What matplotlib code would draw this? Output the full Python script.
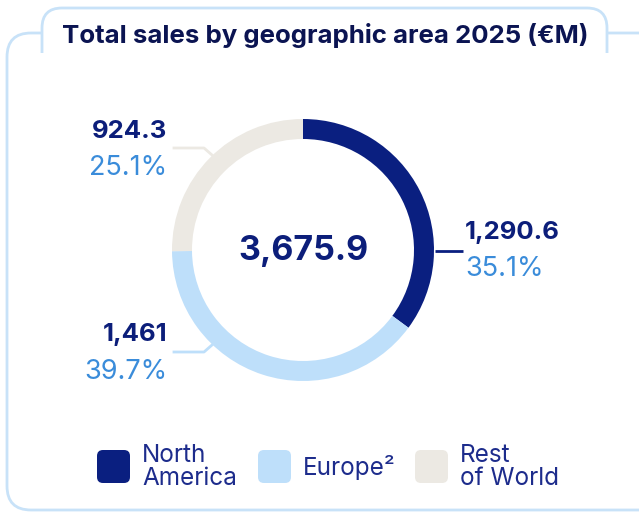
import matplotlib
matplotlib.use("Agg")
import matplotlib.pyplot as plt
from matplotlib.patches import FancyBboxPatch, Rectangle

plt.rcParams['font.family'] = ['Inter', 'DejaVu Sans']

# data
regions = ['North America', 'Europe', 'Rest of World']
legend_labels = ['North\nAmerica', 'Europe\u00b2', 'Rest\nof World']
sales = [1290.6, 1461, 924.3]
value_labels = ['1,290.6', '1,461', '924.3']
pct_labels = ['35.1%', '39.7%', '25.1%']
total_label = '3,675.9'
title = 'Total sales by geographic area 2025 (\u20acM)'

colors = ['#0A1F80', '#BEDFFA', '#ECE9E3']
navy_text = '#0C1E7A'
pct_blue = '#3A8CDA'
frame_col = '#C8E2F8'
title_col = '#0B1452'
legend_text = '#1D2C8C'

W, H = 639, 512
fig = plt.figure(figsize=(W / 100, H / 100), dpi=100)

# overlay in pixel coordinates
ax = fig.add_axes([0, 0, 1, 1])
ax.set_xlim(0, W)
ax.set_ylim(H, 0)
ax.axis('off')

# outer frame
ax.add_patch(FancyBboxPatch((7, 33), 660, 477, boxstyle='round,pad=0,rounding_size=24',
                            fc='none', ec=frame_col, lw=2))
# title tab
ax.add_patch(FancyBboxPatch((42, 8), 565, 70, boxstyle='round,pad=0,rounding_size=20',
                            fc='white', ec=frame_col, lw=2))
ax.add_patch(Rectangle((38, 53), 574, 30, fc='white', ec='none'))
ax.text(325, 35, title, ha='center', va='center', fontsize=18.6,
        fontweight='bold', color=title_col)

# donut
cx, cy, r = 303, 250, 131
pax = fig.add_axes([(cx - r) / W, (H - cy - r) / H, 2 * r / W, 2 * r / H])
pax.pie(sales, colors=colors, startangle=90, counterclock=False, radius=1,
        wedgeprops=dict(width=20 / r, linewidth=0))
pax.set_xlim(-1, 1)
pax.set_ylim(-1, 1)
pax.set_aspect('equal')
pax.axis('off')

ax.text(cx, cy + 1, total_label, ha='center', va='center', fontsize=24.5,
        fontweight='bold', color=navy_text)

# leader lines (pixel positions)
ax.plot([435, 463], [251, 251], color=colors[0], lw=2, solid_capstyle='butt')
ax.plot([212, 204, 174], [155, 148, 148], color=colors[2], lw=2)
ax.plot([212, 204, 174], [345, 352, 352], color=colors[1], lw=2)

# value labels
lab_pos = [(465, 232, 'left'), (167, 335, 'right'), (167, 131, 'right')]
for (x, y, ha), v, p in zip(lab_pos, value_labels, pct_labels):
    ax.text(x, y, v, ha=ha, va='center', fontsize=18.5, fontweight='bold', color=navy_text)
    ax.text(x, y + 37, p, ha=ha, va='center', fontsize=19.5, color=pct_blue)

# legend
leg_x = [97, 258, 415]
for x, c, t in zip(leg_x, colors, legend_labels):
    ax.add_patch(FancyBboxPatch((x, 450), 33, 33, boxstyle='round,pad=0,rounding_size=6',
                                fc=c, ec='none'))
    ax.text(x + 45, 467, t, ha='left', va='center', fontsize=17.5, color=legend_text,
            linespacing=0.95)

fig.savefig('out.png', dpi=100)
